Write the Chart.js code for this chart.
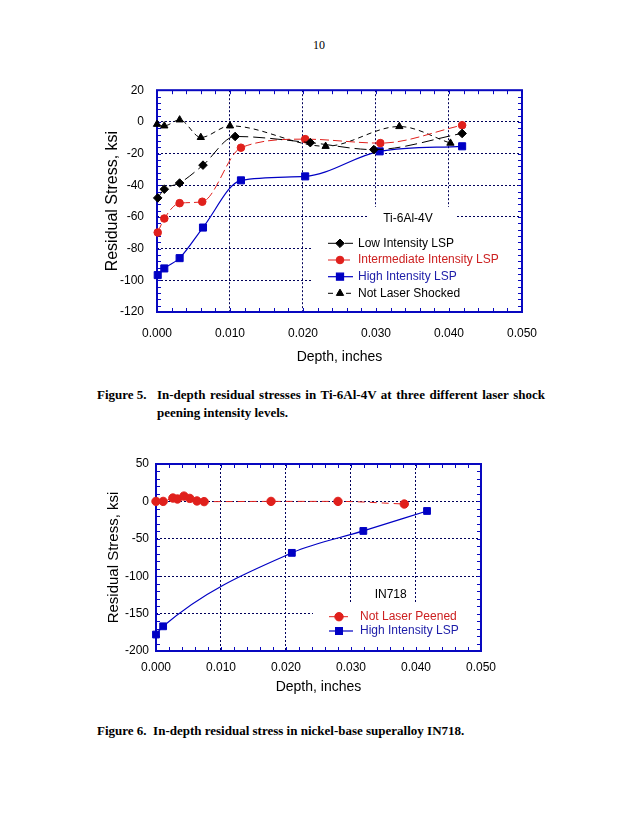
<!DOCTYPE html>
<html><head><meta charset="utf-8">
<script src="https://cdn.jsdelivr.net/npm/chart.js@4/dist/chart.umd.min.js"></script>
<style>
html,body{margin:0;padding:0;background:#fff;}
body{width:638px;height:826px;position:relative;overflow:hidden;}
.t{position:absolute;font-family:"Liberation Serif","Times New Roman",serif;color:#000;white-space:nowrap;}
.cap{font-weight:bold;font-size:13px;line-height:18px;}
#c1wrap{position:absolute;left:90px;top:70px;width:461px;height:300px;}
#c2wrap{position:absolute;left:90px;top:445px;width:415px;height:255px;}
</style></head><body>
<div class="t" style="left:304px;top:37px;width:30px;text-align:center;font-size:12px;line-height:16px;">10</div>
<div id="c1wrap"><canvas id="c1"></canvas></div>
<div class="t cap" style="left:97px;top:386px;">Figure 5.</div>
<div class="t cap" style="left:157px;top:386px;width:388px;white-space:normal;text-align:justify;">In-depth residual stresses in Ti-6Al-4V at three different laser shock peening intensity levels.</div>
<div id="c2wrap"><canvas id="c2"></canvas></div>
<div class="t cap" style="left:97px;top:722px;">Figure 6.&nbsp; In-depth residual stress in nickel-base superalloy IN718.</div>
<script>
// ---------- Figure 5 data (Ti-6Al-4V) ----------
const fig5Labels = ['Low Intensity LSP', 'Intermediate Intensity LSP', 'High Intensity LSP', 'Not Laser Shocked'];
const depthLow   = [0.0001, 0.0010, 0.0031, 0.0063, 0.0107, 0.0210, 0.0297, 0.0418];
const stressLow  = [-48, -42.5, -38.6, -27.3, -9.2, -13.1, -17.5, -7.3];
const depthInt   = [0.0001, 0.0010, 0.0031, 0.0062, 0.0115, 0.0203, 0.0306, 0.0418];
const stressInt  = [-69.8, -61, -51.3, -50.4, -16.3, -10.9, -13.4, -2.1];
const depthHigh  = [0.0001, 0.0010, 0.0031, 0.0063, 0.0115, 0.0203, 0.0305, 0.0418];
const stressHigh = [-96.7, -92.5, -86, -66.7, -36.9, -34.4, -18.6, -15.4];
const depthNone  = [0.0000, 0.0010, 0.0031, 0.0060, 0.0100, 0.0231, 0.0332, 0.0402];
const stressNone = [-1.5, -2.5, 1.3, -9.8, -2.5, -15.4, -2.9, -13.4];
const xTickVals  = [0, 0.01, 0.02, 0.03, 0.04, 0.05];
const xTickLabels = ['0.000', '0.010', '0.020', '0.030', '0.040', '0.050'];
const y1TickVals = [-120, -100, -80, -60, -40, -20, 0, 20];
const y1TickLabels = ['-120', '-100', '-80', '-60', '-40', '-20', '0', '20'];

// ---------- Figure 6 data (IN718) ----------
const fig6Labels = ['Not Laser Peened', 'High Intensity LSP'];
const depthNLP  = [0.0000, 0.0011, 0.0026, 0.0033, 0.0043, 0.0052, 0.0063, 0.0074, 0.0177, 0.0280, 0.0382];
const stressNLP = [0, 0, 4.5, 3.2, 7.1, 4, 0.6, -0.3, 0, 0, -3.5];
const depthHI   = [0.0000, 0.0011, 0.0209, 0.0319, 0.0417];
const stressHI  = [-178, -167, -68.8, -39.5, -12.8];
const y2TickVals = [-200, -150, -100, -50, 0, 50];
const y2TickLabels = ['-200', '-150', '-100', '-50', '0', '50'];

const FONT = '"Liberation Sans", Arial, sans-serif';
const FRAME = '#0808C0';
const GRID = '#00005A';
const RED = '#E0201C';
const BLUE = '#0000C4';
Chart.defaults.font.family = FONT;
Chart.defaults.color = '#000';

const pts = (xs, ys) => xs.map((x, i) => ({x, y: ys[i]}));

const framePlugin = {
  id: 'frame',
  beforeDatasetsDraw(chart, args, o) {
    const {ctx, chartArea: a, scales: {x, y}} = chart;
    ctx.save();
    ctx.fillStyle = '#fff';
    (o.boxes || []).forEach(b => ctx.fillRect(b[0], b[1], b[2] - b[0], b[3] - b[1]));
    ctx.strokeStyle = FRAME; ctx.lineWidth = 1;
    ctx.beginPath();
    const nx = Math.round((x.max - x.min) / o.xMinor);
    for (let k = 0; k <= nx; k++) {
      const px = Math.round(x.getPixelForValue(x.min + k * o.xMinor)) + 0.5;
      ctx.moveTo(px, a.bottom); ctx.lineTo(px, a.bottom - 4);
      ctx.moveTo(px, a.top); ctx.lineTo(px, a.top + 4);
    }
    const ny = Math.round((y.max - y.min) / o.yMinor);
    for (let k = 0; k <= ny; k++) {
      const py = Math.round(y.getPixelForValue(y.min + k * o.yMinor)) + 0.5;
      ctx.moveTo(a.left, py); ctx.lineTo(a.left + 4, py);
      ctx.moveTo(a.right, py); ctx.lineTo(a.right - 4, py);
    }
    ctx.stroke();
    ctx.lineWidth = 2;
    ctx.strokeRect(a.left, a.top, a.right - a.left, a.bottom - a.top);
    ctx.restore();
  },
  afterDraw(chart, args, o) {
    const ctx = chart.ctx;
    ctx.save();
    ctx.font = '12px ' + FONT;
    ctx.textBaseline = 'middle';
    ctx.textAlign = 'center';
    ctx.fillStyle = '#000';
    ctx.fillText(o.title, o.titleX, o.titleY);
    ctx.textAlign = 'left';
    chart.data.datasets.forEach((ds, i) => {
      const yy = o.rowY[i];
      ctx.strokeStyle = ds.borderColor; ctx.lineWidth = ds.borderWidth;
      ctx.setLineDash(ds.borderDash || []);
      ctx.beginPath(); ctx.moveTo(o.x0, yy); ctx.lineTo(o.x1, yy); ctx.stroke();
      ctx.setLineDash([]);
      ctx.fillStyle = ds.pointBackgroundColor; ctx.strokeStyle = ds.pointBorderColor;
      Chart.helpers.drawPoint(ctx, {pointStyle: ds.pointStyle, radius: ds.pointRadius, rotation: 0, borderWidth: 1}, o.xm, yy);
      ctx.fillStyle = o.textColors[i];
      ctx.fillText(ds.label, o.xt, yy);
    });
    ctx.restore();
  }
};

function ds(label, xs, ys, color, dash, style, r, w) {
  return {label, data: pts(xs, ys), showLine: true, borderColor: color, borderWidth: w || 1,
    borderDash: dash, cubicInterpolationMode: 'monotone', pointStyle: style, pointRadius: r,
    pointHoverRadius: r, pointBackgroundColor: color, pointBorderColor: color, pointBorderWidth: 1,
    clip: false, fill: false};
}

function xScale(tickPad, titlePad, h) {
  return {type: 'linear', min: 0, max: 0.05,
    afterBuildTicks: s => { s.ticks = xTickVals.map(v => ({value: v})); },
    ticks: {autoSkip: false, maxRotation: 0, padding: tickPad, color: '#000', font: {family: FONT, size: 12},
      callback: (v, i) => xTickLabels[i]},
    grid: {color: GRID, lineWidth: 1, drawTicks: false},
    border: {display: false, dash: [2, 2]},
    title: {display: true, text: 'Depth, inches', color: '#000', font: {family: FONT, size: 14}, padding: {top: 0, bottom: titlePad}},
    afterFit: s => { s.height = h; }};
}
function yScale(min, max, vals, labels, tickPad, titleSize, titlePad, w) {
  return {type: 'linear', min, max,
    afterBuildTicks: s => { s.ticks = vals.map(v => ({value: v})); },
    ticks: {padding: tickPad, color: '#000', font: {family: FONT, size: 12}, callback: (v, i) => labels[i]},
    grid: {color: GRID, lineWidth: 1, drawTicks: false},
    border: {display: false, dash: [2, 2]},
    title: {display: true, text: 'Residual Stress, ksi', color: '#000', font: {family: FONT, size: titleSize}, padding: {top: titlePad, bottom: 0}},
    afterFit: s => { s.width = w; }};
}

new Chart(document.getElementById('c1'), {
  type: 'scatter',
  data: {datasets: [
    ds(fig5Labels[0], depthLow, stressLow, '#000', [12, 5], 'rectRot', 4.3),
    ds(fig5Labels[1], depthInt, stressInt, RED, [9, 4], 'circle', 3.8),
    ds(fig5Labels[2], depthHigh, stressHigh, BLUE, [], 'rect', 5, 1.2),
    ds(fig5Labels[3], depthNone, stressNone, '#000', [5, 4], 'triangle', 4.2)
  ]},
  options: {
    responsive: true, maintainAspectRatio: false, animation: false,
    layout: {padding: {left: 0, top: 18, right: 0, bottom: 0}},
    plugins: {legend: {display: false}, tooltip: {enabled: false},
      frame: {xMinor: 0.002, yMinor: 4,
        boxes: [[278, 137, 366, 158], [223, 158, 431, 241]],
        title: 'Ti-6Al-4V', titleX: 318, titleY: 149,
        rowY: [173.3, 190, 206.7, 223.3], x0: 238, x1: 263, xm: 250, xt: 268,
        textColors: ['#000', '#CC2020', '#1C1CA8', '#000']}},
    scales: {x: xScale(14, 4, 58), y: yScale(-120, 20, y1TickVals, y1TickLabels, 13, 16, 13.4, 67)}
  },
  plugins: [framePlugin]
});

new Chart(document.getElementById('c2'), {
  type: 'scatter',
  data: {datasets: [
    ds(fig6Labels[0], depthNLP, stressNLP, RED, [7, 5], 'circle', 4.2),
    ds(fig6Labels[1], depthHI, stressHI, BLUE, [], 'rect', 4.8, 1.2)
  ]},
  options: {
    responsive: true, maintainAspectRatio: false, animation: false,
    layout: {padding: {left: 0, top: 19, right: 0, bottom: 0}},
    plugins: {legend: {display: false}, tooltip: {enabled: false},
      frame: {xMinor: 0.002, yMinor: 10,
        boxes: [[272, 140, 324, 158], [223, 158, 390, 205]],
        title: 'IN718', titleX: 300.7, titleY: 150,
        rowY: [171.7, 186], x0: 239, x1: 263, xm: 249, xt: 270,
        textColors: ['#CC2020', '#1C1CA8']}},
    scales: {x: xScale(9, 4.6, 49), y: yScale(-200, 50, y2TickVals, y2TickLabels, 7, 15, 15, 66)}
  },
  plugins: [framePlugin]
});
</script>
</body></html>
